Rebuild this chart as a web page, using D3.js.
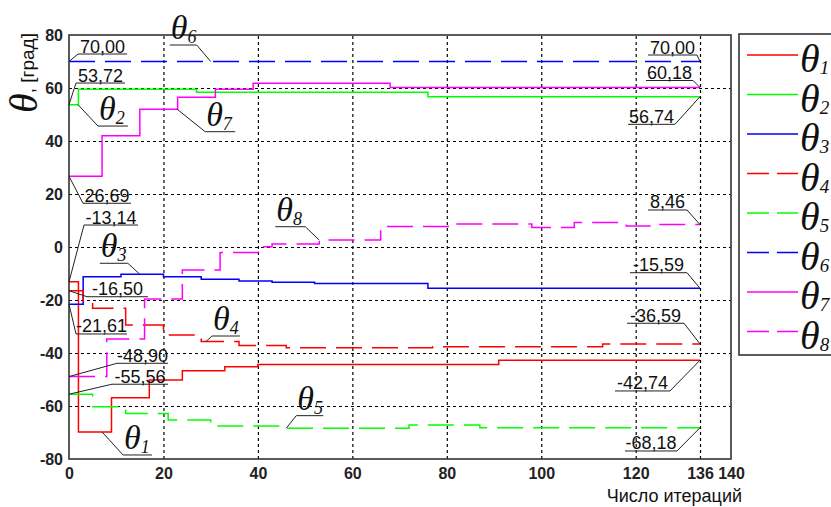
<!DOCTYPE html>
<html>
<head>
<meta charset="utf-8">
<script src="https://cdn.jsdelivr.net/npm/d3@7"></script>
<style>
    body { margin: 0; background: #fff; }
    svg { display: block; font-family: "Liberation Sans", Arial, sans-serif; }
</style>
</head>
<body>
<svg id="chart"></svg>
<script>
// iteration where a value starts (step after) and the angle value, per series
const iters1 = [0, 2, 9, 17, 24, 33, 40, 91, 136];
const theta1 = [-13.14, -69.8, -56.9, -50.2, -46.7, -45.2, -44.3, -42.74, -42.74];

const iters2 = [0, 2, 27, 76, 136];
const theta2 = [53.72, 59.5, 58.4, 56.74, 56.74];

const iters3 = [0, 3, 11, 20, 28, 36, 43, 52, 76, 136];
const theta3 = [-21.61, -11.2, -10.3, -11.2, -12.2, -12.8, -13.3, -13.8, -15.59, -15.59];

const iters4 = [0, 3, 5, 12, 20, 28, 36, 46, 77, 113, 136];
const theta4 = [-16.50, -20.6, -23.1, -29.4, -33.2, -35.7, -37.2, -38.0, -37.6, -36.59, -36.59];

const iters5 = [0, 5, 12, 21, 30, 46, 72, 87, 136];
const theta5 = [-55.56, -60.3, -62.8, -65.3, -67.5, -68.4, -67.2, -68.18, -68.18];

const iters6 = [0, 136];
const theta6 = [70.00, 70.00];

const iters7 = [0, 7, 15, 23, 31, 39, 68, 136];
const theta7 = [26.69, 42.0, 52.0, 56.5, 59.5, 61.8, 60.18, 60.18];

const iters8 = [0, 8, 16, 24, 32, 40, 43, 53, 66, 81, 98, 107, 118, 124, 136];
const theta8 = [-48.90, -34.7, -19.6, -8.7, -2.1, 0.1, 1.1, 2.6, 7.7, 8.7, 7.4, 9.2, 7.9, 8.46, 8.46];

const subscripts = ['1', '2', '3', '4', '5', '6', '7', '8'];
const xTicks = [0, 20, 40, 60, 80, 100, 120, 136, 140];
const yTicks = [-80, -60, -40, -20, 0, 20, 40, 60, 80];

class IterationChart {

    constructor(config, data) {
        this.config = {
            parent: config.parent,
            width: config.width || 831,
            height: config.height || 507,
            margin: config.margin || { top: 35, right: 100, bottom: 48, left: 69 }
        };
        this.data = data;
        this.init();
    }

    init() {
        let self = this;
        let m = self.config.margin;

        self.innerW = self.config.width - m.left - m.right;
        self.innerH = self.config.height - m.top - m.bottom;

        self.svg = d3.select(self.config.parent)
            .attr('width', self.config.width)
            .attr('height', self.config.height);

        self.chart = self.svg.append('g')
            .attr('transform', `translate(${m.left}, ${m.top})`);

        // the 136 gridline sits closer to 120 than a linear axis would put it
        self.x = d3.scaleLinear()
            .domain([0, 120, 136, 140])
            .range([0, 566.7, 631, self.innerW]);

        self.y = d3.scaleLinear()
            .domain([-80, 80])
            .range([self.innerH, 0]);

        self.line = d3.line()
            .x(d => self.x(d[0]))
            .y(d => self.y(d[1]))
            .curve(d3.curveStepAfter);

        let loc = d3.formatLocale({ decimal: ',', thousands: ' ', grouping: [3], currency: ['', ''], minus: '-' });
        self.fmt = loc.format('.2f');
        self.fmtInt = loc.format('d');
    }

    valueAt(s, it) {
        let i = d3.bisectRight(s.iters, it) - 1;
        return s.values[Math.max(0, i)];
    }

    render() {
        let self = this;
        let W = self.innerW, H = self.innerH;

        // grid
        self.chart.append('g')
            .attr('class', 'grid')
            .attr('transform', `translate(0, ${H})`)
            .call(d3.axisBottom(self.x).tickValues(xTicks.slice(1, -1)).tickSize(-H).tickFormat(''))
            .call(g => g.select('.domain').remove());
        self.chart.append('g')
            .attr('class', 'grid')
            .call(d3.axisLeft(self.y).tickValues(yTicks.slice(1, -1)).tickSize(-W).tickFormat(''))
            .call(g => g.select('.domain').remove());
        self.chart.selectAll('.grid line')
            .attr('stroke', '#000')
            .attr('stroke-width', 1.2)
            .attr('stroke-dasharray', '3,3');

        // series
        self.chart.selectAll('path.series')
            .data(self.data).enter()
            .append('path')
            .attr('class', 'series')
            .attr('d', s => self.line(s.iters.map((it, i) => [it, s.values[i]])))
            .attr('fill', 'none')
            .attr('stroke', s => s.color)
            .attr('stroke-width', 1.5)
            .attr('stroke-dasharray', s => s.dashed ? '26,10' : null);

        // axes
        let xAxis = self.chart.append('g')
            .attr('transform', `translate(0, ${H})`)
            .call(d3.axisBottom(self.x).tickValues(xTicks).tickSize(0).tickPadding(9).tickFormat(self.fmtInt));
        let yAxis = self.chart.append('g')
            .call(d3.axisLeft(self.y).tickValues(yTicks).tickSize(0).tickPadding(6).tickFormat(self.fmtInt));
        [xAxis, yAxis].forEach(a => {
            a.select('.domain').remove();
            a.selectAll('text')
                .attr('fill', '#222')
                .style('font-size', '16px')
                .style('font-weight', 'bold')
                .style('font-family', '"Liberation Sans", Arial, sans-serif');
        });

        self.chart.append('rect')
            .attr('width', W)
            .attr('height', H)
            .attr('fill', 'none')
            .attr('stroke', '#333')
            .attr('stroke-width', 1.6);

        // value labels at the start and at the end of each line
        let ann = self.chart.append('g');
        self.data.forEach(s => {
            let first = [0, s.values[0], s.startPos];
            let last = [s.iters[s.iters.length - 1], s.values[s.values.length - 1], s.endPos];
            [first, last].forEach(([it, v, p], k) => {
                let ax = self.x(it), ay = self.y(v);
                let uy = ay + p[2];
                let ex = k === 0 ? ax + p[0] : ax + p[1];
                ann.append('line')
                    .attr('x1', ax + p[0]).attr('x2', ax + p[1])
                    .attr('y1', uy).attr('y2', uy);
                ann.append('line')
                    .attr('x1', ax).attr('y1', ay)
                    .attr('x2', ex).attr('y2', uy);
                ann.append('text')
                    .attr('x', ax + (p[0] + p[1]) / 2)
                    .attr('y', uy - 1.5)
                    .attr('text-anchor', 'middle')
                    .style('font-size', '18px')
                    .attr('fill', '#111')
                    .text(self.fmt(v));
            });

            // theta name next to the line
            let t = s.tag;
            let ax = self.x(t.it), ay = self.y(self.valueAt(s, t.it));
            let uy = ay + t.pos[2];
            let ex = Math.abs(t.pos[0]) < Math.abs(t.pos[1]) ? ax + t.pos[0] : ax + t.pos[1];
            ann.append('line')
                .attr('x1', ax + t.pos[0]).attr('x2', ax + t.pos[1])
                .attr('y1', uy).attr('y2', uy);
            ann.append('line')
                .attr('x1', ax).attr('y1', ay)
                .attr('x2', ex).attr('y2', uy);
            let tx = ann.append('text')
                .attr('x', ax + t.pos[0] + 1)
                .attr('y', uy - 6)
                .attr('fill', '#111')
                .style('font-family', '"Liberation Serif", "Times New Roman", serif')
                .style('font-style', 'italic');
            tx.append('tspan').style('font-size', '34px').text('θ');
            tx.append('tspan').style('font-size', '18px').attr('dy', 4).text(s.sub);
        });
        ann.selectAll('line')
            .attr('stroke', '#222')
            .attr('stroke-width', 1);

        // axis titles
        let yl = self.svg.append('text')
            .attr('transform', 'translate(37, 113) rotate(-90)')
            .attr('fill', '#111');
        yl.append('tspan')
            .style('font-family', '"Liberation Serif", "Times New Roman", serif')
            .style('font-style', 'italic')
            .style('font-size', '40px')
            .text('θ');
        yl.append('tspan')
            .attr('dy', -3)
            .style('font-size', '19px')
            .text(', [град]');

        self.svg.append('text')
            .attr('x', 742)
            .attr('y', 502)
            .attr('text-anchor', 'end')
            .attr('fill', '#111')
            .style('font-size', '18px')
            .text('Число итераций');

        // legend
        let leg = self.svg.append('g');
        leg.append('rect')
            .attr('x', 739).attr('y', 34)
            .attr('width', 130).attr('height', 321)
            .attr('fill', '#fff')
            .attr('stroke', '#333')
            .attr('stroke-width', 1.6);
        let rows = leg.selectAll('g.row')
            .data(self.data).enter()
            .append('g')
            .attr('class', 'row')
            .attr('transform', (d, i) => `translate(0, ${55 + i * 39.5})`);
        rows.append('line')
            .attr('x1', 747).attr('x2', 798)
            .attr('stroke', d => d.color)
            .attr('stroke-width', 1.5)
            .attr('stroke-dasharray', d => d.dashed ? '22,8' : null);
        let lt = rows.append('text')
            .attr('x', 800)
            .attr('y', 17)
            .attr('fill', '#111')
            .style('font-family', '"Liberation Serif", "Times New Roman", serif')
            .style('font-style', 'italic');
        lt.append('tspan').style('font-size', '40px').text('θ');
        lt.append('tspan').style('font-size', '19px').attr('dy', 2).text(d => d.sub);
    }
}

// styles and label placement (pixels) for each series
const colors = ['#ff0000', '#00ff00', '#0000ff', '#ff0000', '#00ff00', '#0000ff', '#ff00ff', '#ff00ff'];
const dashed = [false, false, false, true, true, true, false, true];
const startPos = [[15, 69, -56.8], [7, 56, -21.6], [7, 58, 29.7], [18, 79, 6], [43, 99, -10], [9, 58, -7.5], [14, 62, 27], [48, 99, -13.3]];
const endPos = [[-85, -30, 30.7], [-72, -25, 27.7], [-70, -13, -15.6], [-73, -16, -20.7], [-75, -23, 23.3], [-52, -3, -6.5], [-54, -7, -7], [-52, -13, -14.6]];
const tags = [
    { it: 7, pos: [21, 50, 23] },
    { it: 1.9, pos: [20, 50, 21.4] },
    { it: 15, pos: [-40, -12, -11] },
    { it: 29, pos: [6, 34, -5.6] },
    { it: 46, pos: [10, 37, -12.6] },
    { it: 30, pos: [-41, -14, -16.5] },
    { it: 22.9, pos: [28, 58, 22.5] },
    { it: 53, pos: [-44, -14, -13.4] }
];

const allIters = [iters1, iters2, iters3, iters4, iters5, iters6, iters7, iters8];
const allValues = [theta1, theta2, theta3, theta4, theta5, theta6, theta7, theta8];

let data = subscripts.map((sub, i) => ({
    sub: sub,
    iters: allIters[i],
    values: allValues[i],
    color: colors[i],
    dashed: dashed[i],
    startPos: startPos[i],
    endPos: endPos[i],
    tag: tags[i]
}));

let chart = new IterationChart({ parent: '#chart' }, data);
chart.render();
</script>
</body>
</html>
